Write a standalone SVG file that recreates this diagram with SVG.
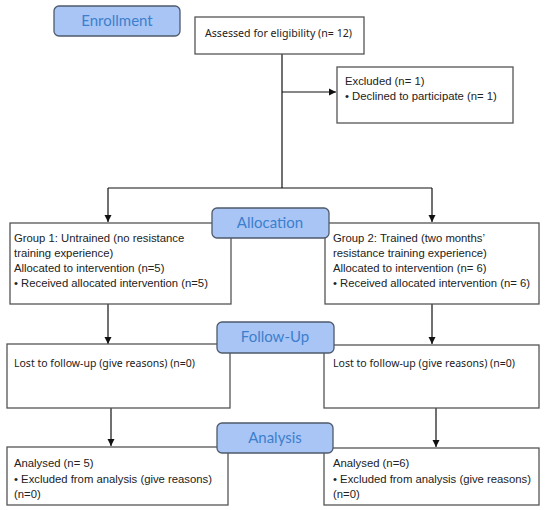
<svg xmlns="http://www.w3.org/2000/svg" width="550" height="510" viewBox="0 0 550 510">
<style>
.box{fill:#fff;stroke:#555;stroke-width:1.3}
.hdr{fill:#a8c5f6;stroke:#4f5a6b;stroke-width:1.3}
.ht{font-family:Lato,"Open Sans",sans-serif;font-size:15px;fill:#3d7fcc;text-anchor:middle}
.t{font-family:"Liberation Sans",Arial,sans-serif;font-size:11.3px;fill:#222}
.c{font-family:"Noto Sans","Open Sans",sans-serif;font-size:11px;fill:#222}
.ln{stroke:#111;stroke-width:1.2;fill:none}
</style>
<defs>
<marker id="ah" markerWidth="8" markerHeight="8" refX="7" refY="4" orient="auto" markerUnits="userSpaceOnUse">
<path d="M0,0.5 L7,4 L0,7.5 Z" fill="#111"/>
</marker>
</defs>
<g id="connectors">
<path class="ln" d="M282,54 V188"/>
<path class="ln" d="M282,92 H336" marker-end="url(#ah)"/>
<path class="ln" d="M108,188 H432"/>
<path class="ln" d="M108,188 V222" marker-end="url(#ah)"/>
<path class="ln" d="M432,188 V222" marker-end="url(#ah)"/>
<path class="ln" d="M108,304 V344" marker-end="url(#ah)"/>
<path class="ln" d="M432,304 V344" marker-end="url(#ah)"/>
<path class="ln" d="M111,408 V446" marker-end="url(#ah)"/>
<path class="ln" d="M436,408 V447" marker-end="url(#ah)"/>
</g>
<g id="enrollment">
<rect class="hdr" x="54" y="6" width="126" height="30" rx="5"/>
<text class="ht" x="117" y="26">Enrollment</text>
</g>
<g id="assessed">
<rect class="box" x="195" y="17" width="169" height="37"/>
<text class="c" x="205" y="37" textLength="147" lengthAdjust="spacingAndGlyphs">Assessed for eligibility (n= 12)</text>
</g>
<g id="excluded">
<rect class="box" x="337" y="67" width="176" height="56"/>
<text class="t" x="345" y="85">Excluded (n= 1)</text>
<text class="t" x="345" y="100">• Declined to participate (n= 1)</text>
</g>
<g id="group1">
<rect class="box" x="10" y="223" width="221" height="81"/>
<text class="t" x="14" y="242">Group 1: Untrained (no resistance</text>
<text class="t" x="14" y="257">training experience)</text>
<text class="t" x="14" y="272">Allocated to intervention (n=5)</text>
<text class="t" x="14" y="287">• Received allocated intervention (n=5)</text>
</g>
<g id="group2">
<rect class="box" x="325" y="223" width="214" height="81"/>
<text class="t" x="333" y="242">Group 2: Trained (two months’</text>
<text class="t" x="333" y="257">resistance training experience)</text>
<text class="t" x="333" y="272">Allocated to intervention (n= 6)</text>
<text class="t" x="333" y="287">• Received allocated intervention (n= 6)</text>
</g>
<g id="allocation">
<rect class="hdr" x="212" y="208" width="117" height="30" rx="5"/>
<text class="ht" x="270" y="228">Allocation</text>
</g>
<g id="lost1">
<rect class="box" x="7" y="344" width="223" height="64"/>
<text class="c" x="14" y="367" textLength="181" lengthAdjust="spacingAndGlyphs">Lost to follow-up (give reasons) (n=0)</text>
</g>
<g id="lost2">
<rect class="box" x="324" y="345" width="215" height="63"/>
<text class="c" x="333" y="367" textLength="182" lengthAdjust="spacingAndGlyphs">Lost to follow-up (give reasons) (n=0)</text>
</g>
<g id="followup">
<rect class="hdr" x="217" y="322" width="117" height="31" rx="5"/>
<text class="ht" x="275" y="342">Follow-Up</text>
</g>
<g id="analysed1">
<rect class="box" x="7" y="447" width="221" height="58"/>
<text class="t" x="14" y="467">Analysed (n= 5)</text>
<text class="t" x="14" y="483">• Excluded from analysis (give reasons)</text>
<text class="t" x="14" y="498">(n=0)</text>
</g>
<g id="analysed2">
<rect class="box" x="324" y="448" width="215" height="57"/>
<text class="t" x="333" y="467">Analysed (n=6)</text>
<text class="t" x="333" y="483">• Excluded from analysis (give reasons)</text>
<text class="t" x="333" y="498">(n=0)</text>
</g>
<g id="analysis">
<rect class="hdr" x="217" y="423" width="116" height="30" rx="5"/>
<text class="ht" x="275" y="443">Analysis</text>
</g>
</svg>
